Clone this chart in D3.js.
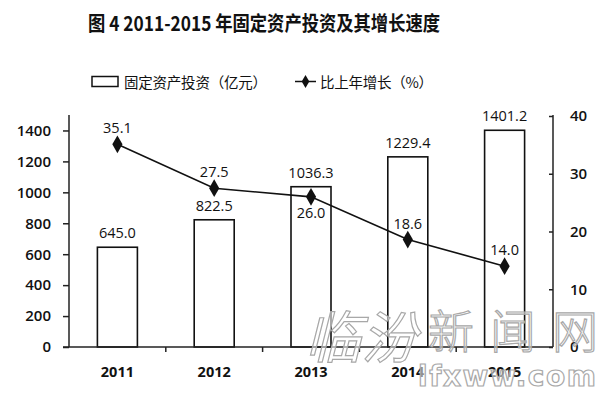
<!DOCTYPE html>
<html><head><meta charset="utf-8">
<script src="https://cdn.jsdelivr.net/npm/d3@7"></script>
<style>body{margin:0;background:#fff}svg{display:block}</style>
</head><body><svg id="c" width="600" height="394"></svg>
<script>
const years = ["2011","2012","2013","2014","2015"];
const investment = [645.0, 822.5, 1036.3, 1229.4, 1401.2];
const growth = [35.1, 27.5, 26.0, 18.6, 14.0];
const leftTicks = [0,200,400,600,800,1000,1200,1400];
const rightTicks = [0,10,20,30,40];
const growthLabelPos = ["above","above","below","above","above"];
const title = "图 4 2011-2015 年固定资产投资及其增长速度";
const legendBar = "固定资产投资（亿元）";
const legendLine = "比上年增长（%）";

const svg = d3.select("#c");
const num = "'Open Sans', 'Noto Sans', sans-serif";
const cjk = "'Noto Sans CJK SC', sans-serif";
const L = 69, R = 553, T = 115, B = 347;

const x = d3.scaleBand().domain(years).range([L, R]).paddingInner(0).paddingOuter(0);
const yL = d3.scaleLinear().domain([0, 1500]).range([B, T]);
const yR = d3.scaleLinear().domain([0, 40]).range([B, T + 1]);

svg.append("text").attr("x", 88).attr("y", 31)
  .attr("font-family", cjk).attr("font-weight", "bold").attr("font-size", 20.5)
  .attr("textLength", 352).attr("lengthAdjust", "spacingAndGlyphs")
  .attr("fill", "#111").text(title);

// legend
const lg = svg.append("g");
lg.append("rect").attr("x", 92).attr("y", 76.5).attr("width", 26).attr("height", 10)
  .attr("fill", "#fff").attr("stroke", "#111").attr("stroke-width", 1.5);
lg.append("text").attr("x", 124).attr("y", 87.5).attr("font-family", cjk).attr("font-size", 14.5)
  .attr("textLength", 143).attr("fill", "#111").text(legendBar);
lg.append("line").attr("x1", 295).attr("x2", 316).attr("y1", 81.5).attr("y2", 81.5)
  .attr("stroke", "#111").attr("stroke-width", 1.5);
lg.append("path").attr("d", d3.symbol(d3.symbolDiamond, 50)()).attr("transform", "translate(305.5,81.5)").attr("fill", "#111");
lg.append("text").attr("x", 320).attr("y", 87.5).attr("font-family", cjk).attr("font-size", 14.5)
  .attr("textLength", 113).attr("fill", "#111").text(legendLine);

// bars
const bw = 40;
svg.append("g").selectAll("rect").data(investment).join("rect")
  .attr("x", (d, i) => x(years[i]) + x.bandwidth() / 2 - bw / 2)
  .attr("y", d => yL(d)).attr("width", bw).attr("height", d => B - yL(d))
  .attr("fill", "#fff").attr("stroke", "#111").attr("stroke-width", 1.6);

svg.append("g").selectAll("text").data(investment).join("text")
  .attr("x", (d, i) => x(years[i]) + x.bandwidth() / 2)
  .attr("y", d => yL(d) - 9).attr("text-anchor", "middle")
  .attr("font-family", num).attr("font-size", 14.5).attr("fill", "#111")
  .text(d => d.toFixed(1));

// axes
const axL = d3.axisLeft(yL).tickValues(leftTicks).tickFormat(d3.format("d")).tickSize(6).tickPadding(12);
const gL = svg.append("g").attr("transform", `translate(${L},0)`).call(axL);
gL.select(".domain").attr("d", `M-0,${T}V${B}`);
const axR = d3.axisRight(yR).tickValues(rightTicks).tickFormat(d3.format("d")).tickSize(-4).tickPadding(17);
const gR = svg.append("g").attr("transform", `translate(${R},0)`).call(axR);
gR.select(".domain").attr("d", `M0,${T}V${B}`);
[gL, gR].forEach(g => {
  g.selectAll("path,line").attr("stroke", "#222").attr("stroke-width", 1.5);
  g.selectAll("text").attr("font-family", num).attr("font-size", 15).attr("font-weight", 600).attr("fill", "#111");
});

const axB = d3.axisBottom(x).tickSize(0).tickPadding(20);
const gB = svg.append("g").attr("transform", `translate(0,${B})`).call(axB);
gB.select(".domain").attr("d", `M${L - 6},0H${R}`).attr("stroke", "#222").attr("stroke-width", 1.5);
gB.selectAll("text").attr("font-family", num).attr("font-size", 14.5).attr("font-weight", "bold").attr("fill", "#111");
gB.append("g").selectAll("line").data(years.slice(1)).join("line")
  .attr("x1", d => x(d)).attr("x2", d => x(d)).attr("y1", 0).attr("y2", 5)
  .attr("stroke", "#222").attr("stroke-width", 1.5);

// line
const cx = (d, i) => x(years[i]) + x.bandwidth() / 2;
const line = d3.line().x(cx).y(d => yR(d));
svg.append("path").datum(growth).attr("d", line).attr("fill", "none")
  .attr("stroke", "#111").attr("stroke-width", 1.6);
svg.append("g").selectAll("path").data(growth).join("path")
  .attr("d", d3.symbol(d3.symbolDiamond, 90)())
  .attr("transform", (d, i) => `translate(${cx(d, i)},${yR(d)})`).attr("fill", "#111");
svg.append("g").selectAll("text").data(growth).join("text")
  .attr("x", cx).attr("y", (d, i) => growthLabelPos[i] === "above" ? yR(d) - 11 : yR(d) + 21)
  .attr("text-anchor", "middle").attr("font-family", num).attr("font-size", 14.5).attr("fill", "#111")
  .text(d => d.toFixed(1));

// watermark
const wm = svg.append("g").attr("fill", "rgba(255,255,255,0.55)").attr("stroke", "#a8a8a8").attr("stroke-width", 1.2);
wm.append("text").attr("x", 305).attr("y", 358).attr("font-family", cjk).attr("font-size", 56)
  .attr("font-style", "italic").text("临汾");
wm.append("text").attr("x", 428).attr("y", 348).attr("font-family", cjk).attr("font-size", 46)
  .attr("font-weight", 300).attr("textLength", 170).text("新闻网");
wm.append("text").attr("x", 418).attr("y", 386).attr("font-family", "'DejaVu Sans', sans-serif").attr("font-size", 28)
  .attr("font-weight", "bold").attr("textLength", 178).text("lfxww.com");
</script></body></html>
